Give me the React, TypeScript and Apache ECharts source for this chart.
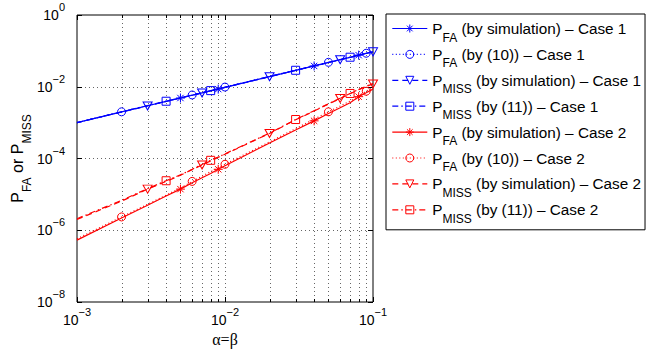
import React, { useEffect, useRef } from 'react';
import * as echarts from 'echarts';

// ---------- data ----------
const xValues = [0.001, 0.002, 0.003, 0.004, 0.005, 0.006, 0.007, 0.008, 0.009, 0.01, 0.02, 0.03, 0.04, 0.05, 0.06, 0.07, 0.08, 0.09, 0.1];

const pfaSimCase1 = [1.0e-3, 2.0e-3, 2.95e-3, 3.9e-3, 4.85e-3, 5.8e-3, 6.75e-3, 7.7e-3, 8.6e-3, 9.6e-3, 1.92e-2, 2.86e-2, 3.8e-2, 4.75e-2, 5.7e-2, 6.6e-2, 7.6e-2, 8.5e-2, 9.4e-2];
const pfaEq10Case1 = [1.0e-3, 2.0e-3, 3.0e-3, 3.95e-3, 4.9e-3, 5.9e-3, 6.85e-3, 7.8e-3, 8.8e-3, 9.8e-3, 1.94e-2, 2.9e-2, 3.85e-2, 4.8e-2, 5.75e-2, 6.7e-2, 7.65e-2, 8.6e-2, 9.5e-2];
const pmissSimCase1 = [1.0e-3, 1.98e-3, 2.9e-3, 3.9e-3, 4.85e-3, 5.8e-3, 6.7e-3, 7.7e-3, 8.6e-3, 9.6e-3, 1.9e-2, 2.85e-2, 3.8e-2, 4.7e-2, 5.65e-2, 6.6e-2, 7.5e-2, 8.5e-2, 9.4e-2];
const pmissEq11Case1 = [1.0e-3, 2.0e-3, 3.0e-3, 3.95e-3, 4.9e-3, 5.85e-3, 6.8e-3, 7.8e-3, 8.75e-3, 9.7e-3, 1.93e-2, 2.88e-2, 3.83e-2, 4.78e-2, 5.72e-2, 6.66e-2, 7.6e-2, 8.55e-2, 9.5e-2];

const pfaSimCase2 = [5.3e-7, 2.2e-6, 5.0e-6, 9.0e-6, 1.4e-5, 2.1e-5, 2.9e-5, 3.8e-5, 5.0e-5, 6.3e-5, 2.7e-4, 6.2e-4, 1.12e-3, 1.8e-3, 2.6e-3, 3.6e-3, 5.3e-3, 6.8e-3, 8.6e-3];
const pfaEq10Case2 = [5.8e-7, 2.35e-6, 5.3e-6, 9.5e-6, 1.5e-5, 2.3e-5, 3.2e-5, 4.3e-5, 5.5e-5, 6.9e-5, 2.9e-4, 6.8e-4, 1.25e-3, 2.0e-3, 2.9e-3, 4.0e-3, 5.6e-3, 7.5e-3, 9.6e-3];
const pmissSimCase2 = [2.0e-6, 6.5e-6, 1.4e-5, 2.3e-5, 3.4e-5, 4.9e-5, 6.6e-5, 8.6e-5, 1.08e-4, 1.32e-4, 5.0e-4, 1.2e-3, 2.1e-3, 3.3e-3, 4.7e-3, 6.4e-3, 8.3e-3, 1.02e-2, 1.2e-2];
const pmissEq11Case2 = [2.1e-6, 6.8e-6, 1.45e-5, 2.4e-5, 3.5e-5, 5.0e-5, 6.8e-5, 8.9e-5, 1.1e-4, 1.35e-4, 5.1e-4, 1.22e-3, 2.15e-3, 3.35e-3, 4.8e-3, 6.5e-3, 8.4e-3, 1.03e-2, 1.25e-2];

const seriesValues = [pfaSimCase1, pfaEq10Case1, pmissSimCase1, pmissEq11Case1, pfaSimCase2, pfaEq10Case2, pmissSimCase2, pmissEq11Case2];
const seriesSubs = ['FA', 'FA', 'MISS', 'MISS', 'FA', 'FA', 'MISS', 'MISS'];
const seriesRest = [
  ' (by simulation) – Case 1',
  ' (by (10)) – Case 1',
  ' (by simulation) – Case 1',
  ' (by (11)) – Case 1',
  ' (by simulation) – Case 2',
  ' (by (10)) – Case 2',
  ' (by simulation) – Case 2',
  ' (by (11)) – Case 2',
];
const seriesNames = seriesSubs.map((s, i) => 'P' + s + seriesRest[i]);
const markerIndices = [
  [4, 8, 12, 16], [1, 5, 9, 13, 17], [2, 6, 10, 14, 18], [3, 7, 11, 15],
  [4, 8, 12, 16], [1, 5, 9, 13, 17], [2, 6, 10, 14, 18], [3, 7, 11, 15],
];

const xTickValues = [0.001, 0.002, 0.003, 0.004, 0.005, 0.006, 0.007, 0.008, 0.009, 0.01, 0.02, 0.03, 0.04, 0.05, 0.06, 0.07, 0.08, 0.09, 0.1];
const yTickValues = [1, 1e-2, 1e-4, 1e-6, 1e-8];

const X_MIN = 0.001;
const X_MAX = 0.1;
const Y_MIN = 1e-8;
const Y_MAX = 1;

// ---------- styles ----------
const BLUE = '#0000ff';
const RED = '#ff0000';
const seriesColors = [BLUE, BLUE, BLUE, BLUE, RED, RED, RED, RED];
const lineTypes: any[] = ['solid', [1, 2.5], [6, 4], [6, 3, 1.5, 3], 'solid', [1, 2.5], [6, 4], [6, 3, 1.5, 3]];
const STAR = 'path://M5,0L5,10M0,5L10,5M1.46,1.46L8.54,8.54M8.54,1.46L1.46,8.54';
const symbols = [STAR, 'circle', 'triangle', 'rect', STAR, 'circle', 'triangle', 'rect'];
const symbolSizes: any[] = [9, 8, [9, 8], 8, 9, 8, [9, 8], 8];
const symbolRotates = [0, 0, 180, 0, 0, 0, 180, 0];
const FONT = '"Liberation Sans", Arial, Helvetica, sans-serif';

const supLabel = (v: number) => {
  const e = Math.round(Math.log10(v));
  return '{b|10}{s|' + (e === 0 ? '0' : '\u2212' + String(-e)) + '}';
};

const App: React.FC = () => {
  const ref = useRef<HTMLDivElement>(null);

  useEffect(() => {
    if (!ref.current) return;
    const chart = echarts.init(ref.current, undefined, { renderer: 'svg' });

    const tickRich = {
      b: { fontSize: 14, lineHeight: 18, color: '#000', fontFamily: FONT },
      s: { fontSize: 11, lineHeight: 18, verticalAlign: 'top', height: 2, color: '#000', fontFamily: FONT },
    };

    const lineSeries = seriesValues.map((vals, i) => ({
      name: seriesNames[i],
      type: 'line',
      xAxisIndex: 0,
      yAxisIndex: 0,
      color: seriesColors[i],
      symbol: symbols[i],
      symbolSize: symbolSizes[i],
      symbolRotate: symbolRotates[i],
      lineStyle: { color: seriesColors[i], width: 1.2, type: lineTypes[i] },
      itemStyle: { color: 'rgba(0,0,0,0)', borderColor: seriesColors[i], borderWidth: 1 },
      emphasis: { disabled: true },
      z: 3,
      data: vals.map((y, j) => {
        const item: any = { value: [xValues[j], y] };
        if (markerIndices[i].indexOf(j) < 0) item.symbol = 'none';
        return item;
      }),
    }));

    const xGridSeries = {
      type: 'custom',
      silent: true,
      z: 1,
      clip: false,
      xAxisIndex: 0,
      yAxisIndex: 0,
      data: xTickValues.map((v) => [v, 1e-4]),
      renderItem: (params: any, api: any) => {
        const v = api.value(0);
        const top = api.coord([v, Y_MAX]);
        const bot = api.coord([v, Y_MIN]);
        const x = Math.round(top[0]) + 0.5;
        const lg = Math.log10(v);
        const major = Math.abs(lg - Math.round(lg)) < 1e-6;
        const len = major ? 5 : 3;
        const edge = v <= X_MIN * 1.0001 || v >= X_MAX * 0.9999;
        const children: any[] = [];
        if (!edge) {
          children.push({ type: 'line', shape: { x1: x, y1: top[1], x2: x, y2: bot[1] }, style: { stroke: '#666', lineWidth: 1, lineDash: [1, 3] } });
        }
        children.push({ type: 'line', shape: { x1: x, y1: bot[1], x2: x, y2: bot[1] - len }, style: { stroke: '#000', lineWidth: 1 } });
        children.push({ type: 'line', shape: { x1: x, y1: top[1], x2: x, y2: top[1] + len }, style: { stroke: '#000', lineWidth: 1 } });
        return { type: 'group', children };
      },
    };

    const yGridSeries = {
      type: 'custom',
      silent: true,
      z: 1,
      clip: false,
      xAxisIndex: 0,
      yAxisIndex: 0,
      data: yTickValues.map((v) => [0.01, v]),
      renderItem: (params: any, api: any) => {
        const v = api.value(1);
        const l = api.coord([X_MIN, v]);
        const r = api.coord([X_MAX, v]);
        const y = Math.round(l[1]) + 0.5;
        const edge = v <= Y_MIN * 1.0001 || v >= Y_MAX * 0.9999;
        const children: any[] = [];
        if (!edge) {
          children.push({ type: 'line', shape: { x1: l[0], y1: y, x2: r[0], y2: y }, style: { stroke: '#666', lineWidth: 1, lineDash: [1, 3] } });
        }
        children.push({ type: 'line', shape: { x1: l[0], y1: y, x2: l[0] + 5, y2: y }, style: { stroke: '#000', lineWidth: 1 } });
        children.push({ type: 'line', shape: { x1: r[0], y1: y, x2: r[0] - 5, y2: y }, style: { stroke: '#000', lineWidth: 1 } });
        return { type: 'group', children };
      },
    };

    const legendRich = {
      m: { fontSize: 15.3, lineHeight: 20, color: '#000', fontFamily: FONT },
      s: { fontSize: 12, lineHeight: 20, verticalAlign: 'bottom', height: 2, color: '#000', fontFamily: FONT },
    };

    const option: any = {
      animation: false,
      backgroundColor: '#fff',
      textStyle: { fontFamily: FONT, color: '#000' },
      grid: {
        left: 77, top: 15, width: 296, height: 287,
        show: true, borderColor: '#000', borderWidth: 1, backgroundColor: '#fff',
        containLabel: false, outerBoundsMode: 'none',
      },
      xAxis: [{
        type: 'log', logBase: 10, min: X_MIN, max: X_MAX,
        axisLine: { show: false },
        axisTick: { show: false },
        splitLine: { show: false },
        axisLabel: { formatter: (v: number) => supLabel(v), rich: tickRich, margin: 9, color: '#000' },
        name: 'α=β',
        nameLocation: 'middle',
        nameGap: 27,
        nameTextStyle: { fontSize: 16, fontFamily: '"Liberation Serif", "Times New Roman", serif', color: '#000' },
      }],
      yAxis: [{
        type: 'log', logBase: 10, min: Y_MIN, max: Y_MAX,
        axisLine: { show: false },
        axisTick: { show: false },
        splitLine: { show: false },
        axisLabel: {
          formatter: (v: number) => {
            const e = Math.round(Math.log10(v));
            return e % 2 === 0 ? supLabel(v) : '';
          },
          rich: tickRich, margin: 12, color: '#000',
          showMinLabel: true, showMaxLabel: true,
        },
        name: '{m|P}{s|FA}{m| or P}{s|MISS}',
        nameLocation: 'middle',
        nameRotate: 90,
        nameGap: 39,
        nameTextStyle: {
          rich: {
            m: { fontSize: 16, lineHeight: 20, color: '#000', fontFamily: FONT },
            s: { fontSize: 12, lineHeight: 20, verticalAlign: 'bottom', height: 2, color: '#000', fontFamily: FONT },
          },
        },
      }],
      legend: {
        orient: 'vertical',
        left: 386,
        top: 14,
        padding: [7, 4, 5, 5.7],
        itemWidth: 35,
        itemHeight: 10,
        itemGap: 3.4,
        backgroundColor: '#fff',
        borderColor: '#000',
        borderWidth: 1,
        borderRadius: 0,
        selectedMode: false,
        data: seriesNames.map((n, i) => ({
          name: n,
          itemStyle: { color: 'rgba(0,0,0,0)', borderColor: seriesColors[i], borderWidth: 1 },
          lineStyle: { color: seriesColors[i], width: 1.2, type: lineTypes[i] },
        })),
        formatter: (name: string) => {
          const i = seriesNames.indexOf(name);
          return '{m|P}{s|' + seriesSubs[i] + '}{m|' + seriesRest[i] + '}';
        },
        textStyle: { color: '#000', rich: legendRich },
      },
      series: [xGridSeries, yGridSeries, ...lineSeries],
    };

    chart.setOption(option);
    return () => chart.dispose();
  }, []);

  return <div ref={ref} style={{ position: 'fixed', left: 0, top: 0, width: 672, height: 350 }} />;
};

export default App;
